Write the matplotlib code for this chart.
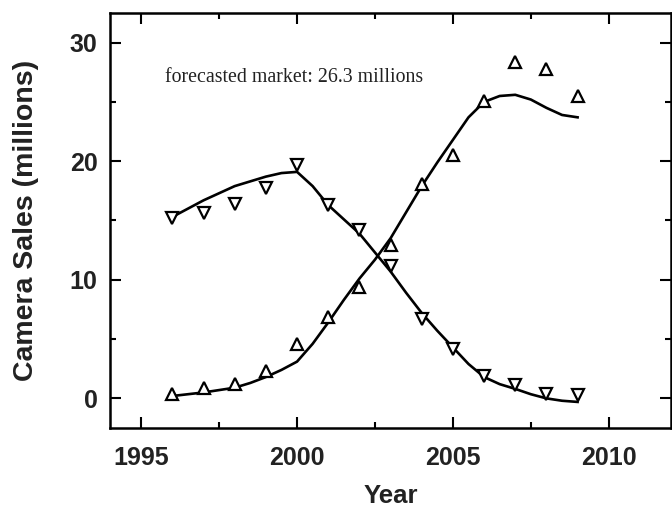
"""Camera sales: film vs digital, with fitted curves."""

import matplotlib
matplotlib.use("Agg")
import matplotlib.pyplot as plt
from matplotlib.ticker import MultipleLocator

# observed sales (millions)
years = [1996, 1997, 1998, 1999, 2000, 2001, 2002, 2003, 2004, 2005, 2006, 2007, 2008, 2009]
rising = [0.4, 0.9, 1.2, 2.3, 4.6, 6.9, 9.4, 12.9, 18.1, 20.5, 25.1, 28.4, 27.8, 25.5]
falling = [15.2, 15.6, 16.4, 17.7, 19.7, 16.3, 14.2, 11.2, 6.7, 4.2, 1.9, 1.1, 0.4, 0.25]

fit_years = [1996, 1996.5, 1997, 1997.5, 1998, 1998.5, 1999, 1999.5, 2000, 2000.5,
             2001, 2001.5, 2002, 2002.5, 2003, 2003.5, 2004, 2004.5, 2005, 2005.5,
             2006, 2006.5, 2007, 2007.5, 2008, 2008.5, 2009]
fit_rising = [0.2, 0.35, 0.5, 0.7, 0.9, 1.3, 1.8, 2.4, 3.1, 4.6,
              6.4, 8.3, 10.1, 11.7, 13.5, 15.7, 17.9, 19.9, 21.8, 23.7,
              25.0, 25.5, 25.6, 25.2, 24.5, 23.9, 23.7]
fit_falling = [15.3, 16.0, 16.7, 17.3, 17.9, 18.3, 18.7, 19.0, 19.1, 17.9,
               16.3, 15.1, 13.9, 12.3, 10.7, 8.9, 7.2, 5.7, 4.3, 2.9,
               1.8, 1.2, 0.8, 0.35, 0.0, -0.2, -0.3]

note = "forecasted market: 26.3 millions"

fig = plt.figure(figsize=(6.72, 5.09), dpi=100)
ax = fig.add_axes([0.1637, 0.1591, 0.835, 0.8154])

ax.plot(fit_years, fit_rising, color="black", lw=1.9, zorder=3)
ax.plot(fit_years, fit_falling, color="black", lw=1.9, zorder=3)
ax.plot(years, rising, ls="none", marker="^", ms=9, mfc="white", mec="black",
        mew=1.6, zorder=4)
ax.plot(years, falling, ls="none", marker="v", ms=9, mfc="white", mec="black",
        mew=1.6, zorder=4)

ax.text(1995.78, 27.1, note, family="Liberation Serif", fontsize=14.3,
        va="center", ha="left", color="#222222")

ax.set_xlim(1994, 2012)
ax.set_ylim(-2.5, 32.5)
ax.xaxis.set_major_locator(MultipleLocator(5))
ax.xaxis.set_minor_locator(MultipleLocator(2.5))
ax.yaxis.set_major_locator(MultipleLocator(10))
ax.yaxis.set_minor_locator(MultipleLocator(5))
ax.tick_params(which="both", direction="in", top=True, right=True, width=1.5)
ax.tick_params(which="major", length=8)
ax.tick_params(axis="x", which="major", pad=13)
ax.tick_params(axis="y", which="major", pad=9)
ax.tick_params(which="minor", length=4)
for lab in ax.get_xticklabels() + ax.get_yticklabels():
    lab.set_family("Liberation Sans")
    lab.set_fontweight("bold")
    lab.set_fontsize(18)
    lab.set_color("#222222")
for sp in ax.spines.values():
    sp.set_linewidth(1.8)

ax.set_xlabel("Year", family="Liberation Sans", fontweight="bold", fontsize=18.5,
              labelpad=10, color="#222222")
ax.set_ylabel("Camera Sales (millions)", family="Liberation Sans", fontweight="bold",
              fontsize=20.5, labelpad=22, color="#222222")

fig.savefig("out.png", dpi=100, facecolor="white")
